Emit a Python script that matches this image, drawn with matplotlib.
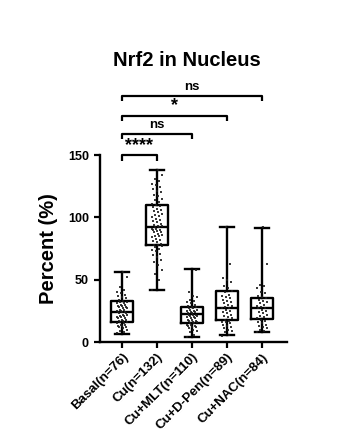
import matplotlib
matplotlib.use("Agg")
import matplotlib.pyplot as plt

plt.rcParams['font.family'] = ['Liberation Sans', 'DejaVu Sans']
plt.rcParams['font.weight'] = 'bold'

# ---- data ----
groups = ["Basal(n=76)", "Cu(n=132)", "Cu+MLT(n=110)", "Cu+D-Pen(n=89)", "Cu+NAC(n=84)"]
whislo = [6.7, 41.5, 4.0, 5.4, 8.0]
q1 = [15.8, 78.2, 15.5, 17.4, 18.2]
median = [24.4, 92.4, 22.2, 27.6, 27.6]
q3 = [33.0, 110.0, 28.1, 41.0, 35.6]
whishi = [56.3, 138.0, 58.7, 91.9, 91.6]

basal_pts = [7, 8, 9, 10, 11, 12, 12, 13, 13, 14, 14, 15, 15, 16, 16, 17, 17, 18, 18, 19,
             19, 20, 20, 21, 21, 22, 22, 23, 23, 24, 24, 24, 25, 25, 26, 26, 27, 27, 28, 28,
             29, 29, 30, 30, 31, 31, 32, 32, 33, 34, 35, 36, 37, 38, 39, 40, 42, 44, 52, 56]
cu_pts = [42, 50, 55, 58, 62, 64, 66, 68, 70, 71, 73, 74, 75, 76, 77, 78, 78, 79, 80, 81,
          82, 83, 84, 85, 85, 86, 87, 88, 88, 89, 90, 90, 91, 91, 92, 92, 93, 93, 94, 95,
          96, 97, 98, 99, 100, 101, 102, 103, 104, 105, 106, 107, 108, 109, 110, 111, 112,
          114, 115, 117, 118, 120, 121, 123, 124, 126, 127, 129, 131, 134, 138]
mlt_pts = [4, 6, 8, 9, 10, 11, 12, 12, 13, 13, 14, 14, 15, 15, 16, 16, 17, 17, 18, 18,
           19, 19, 20, 20, 21, 21, 22, 22, 22, 23, 23, 24, 24, 25, 25, 26, 26, 27, 27, 28,
           28, 29, 30, 31, 32, 33, 34, 36, 37, 40, 58]
dpen_pts = [5, 6, 8, 9, 10, 11, 12, 13, 14, 15, 16, 16, 17, 18, 19, 20, 21, 22, 23, 24,
            25, 26, 27, 27, 28, 29, 30, 31, 32, 33, 34, 35, 36, 37, 38, 40, 41, 43, 45, 48,
            50, 51, 63, 92]
nac_pts = [8, 9, 10, 11, 12, 13, 14, 15, 16, 17, 18, 19, 20, 21, 22, 23, 24, 25, 26, 27,
           27, 28, 29, 30, 31, 32, 33, 34, 35, 36, 37, 39, 40, 43, 45, 46, 63, 92]
points = [basal_pts, cu_pts, mlt_pts, dpen_pts, nac_pts]

comparisons = [(0, 1, "****"), (0, 2, "ns"), (0, 3, "*"), (0, 4, "ns")]
yticks = [0, 50, 100, 150]

# ---- figure ----
fig = plt.figure(figsize=(3.53, 4.38), dpi=100)
ax = fig.add_axes([0.283, 0.219, 0.530, 0.427])

stats = []
for i in range(len(groups)):
    stats.append(dict(med=median[i], q1=q1[i], q3=q3[i], whislo=whislo[i], whishi=whishi[i],
                      label=groups[i]))
pos = list(range(len(groups)))
ax.bxp(stats, positions=pos, widths=0.63, showfliers=False,
       boxprops=dict(color='black', linewidth=1.7),
       medianprops=dict(color='black', linewidth=1.7),
       whiskerprops=dict(color='black', linewidth=1.7),
       capprops=dict(color='black', linewidth=1.7),
       capwidths=0.38, zorder=2)

for i, pts in enumerate(points):
    xs = [i + (((k * 7) % 11) - 5) / 5 * 0.15 for k in range(len(pts))]
    ax.scatter(xs, pts, s=3, color='#1a1a1a', marker='s', linewidths=0, zorder=3, alpha=0.85)

ax.set_xlim(-0.63, 4.71)
ax.set_ylim(0, 150)
ax.set_yticks(yticks)
ax.set_yticklabels([str(t) for t in yticks], fontsize=9, fontweight='bold')
ax.set_xticks(pos)
ax.set_xticklabels(groups, rotation=45, ha='right', rotation_mode='anchor',
                   fontsize=9.5, fontweight='bold')
ax.tick_params(axis='both', width=1.6, length=4.5, direction='out')
ax.tick_params(axis='x', pad=2)
for s in ['top', 'right']:
    ax.spines[s].set_visible(False)
for s in ['left', 'bottom']:
    ax.spines[s].set_linewidth(1.7)

ax.set_ylabel("Percent (%)", fontsize=14.5, fontweight='bold', labelpad=7)

# significance brackets
heights = [150, 167, 181.5, 197.5]
drop = 4.5
for (a, b, txt), h in zip(comparisons, heights):
    ax.plot([a, a, b, b], [h - drop, h, h, h - drop], color='black', lw=1.6,
            clip_on=False, solid_capstyle='butt')
    fs = 13 if '*' in txt else 9.5
    ax.text((a + b) / 2, h + (1 if '*' in txt else 2.5), txt, ha='center', va='bottom',
            fontsize=fs, fontweight='bold', clip_on=False)

fig.text(0.53, 0.863, "Nrf2 in Nucleus", ha='center', va='center', fontsize=14.5,
         fontweight='bold')

fig.savefig("out.png", dpi=100, facecolor='white')
